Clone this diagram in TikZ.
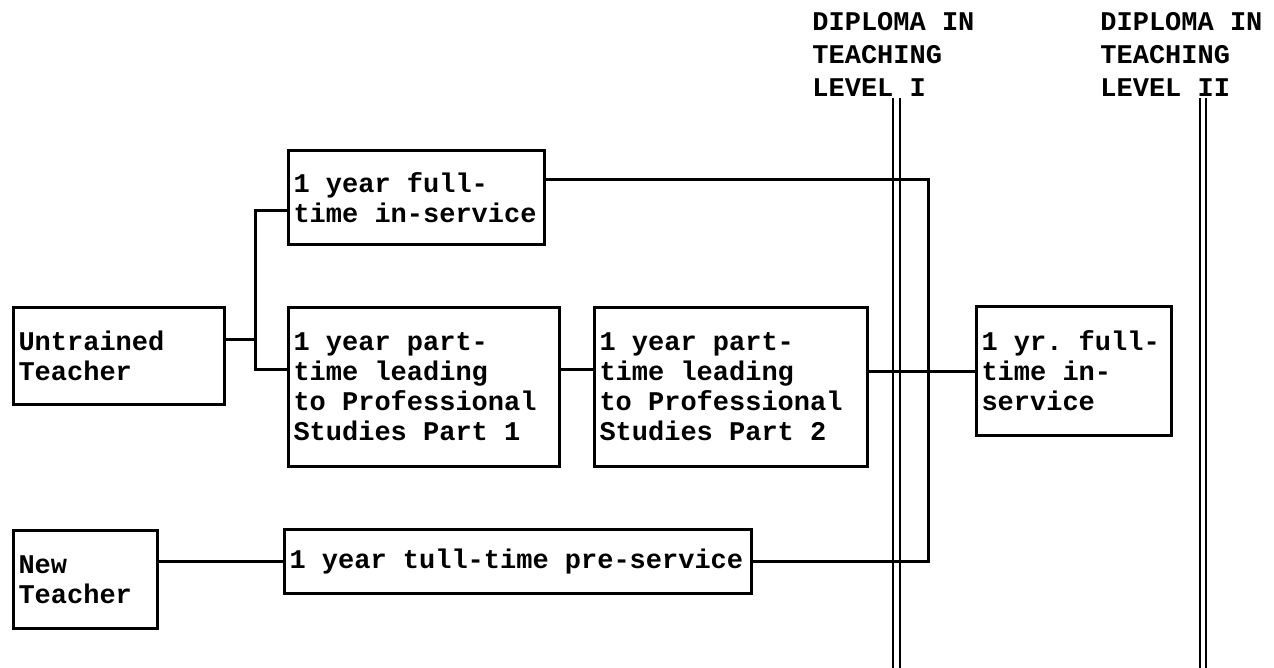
\documentclass[tikz,border=0pt]{standalone}
\usepackage{fontspec}
\setmonofont{Liberation Mono}
\usetikzlibrary{positioning}

\begin{document}
\begin{tikzpicture}[x=0.5pt, y=-0.5pt,
  every node/.style={font=\ttfamily\bfseries\fontsize{13.5}{15}\selectfont\frenchspacing},
  course/.style={draw, line width=1.5pt, align=flush left, inner xsep=2.5pt, inner ysep=0pt, anchor=north west},
  link/.style={line width=1.5pt},
  level/.style={double, double distance=2.4pt, line width=0.9pt},
  dipl/.style={align=flush left, inner sep=0pt, anchor=north west,
    font=\ttfamily\bfseries\fontsize{13.5}{16.5}\selectfont}]

\useasboundingbox (0,0) rectangle (1274,668);

\node[course, text width=100.5pt, minimum height=48.5pt] (untrained) at (12,306) {Untrained\\Teacher};
\node[course, text width=123pt, minimum height=47pt] (fulltime) at (287,149) {1 year full-\\time in-service};
\node[course, text width=130.5pt, minimum height=79.5pt] (ps1) at (287,306) {1 year part-\\time leading\\to Professional\\Studies Part 1};
\node[course, text width=131.5pt, minimum height=79.5pt, right=16pt of ps1.north east, anchor=north west] (ps2) {1 year part-\\time leading\\to Professional\\Studies Part 2};
\node[course, text width=92.5pt, minimum height=64.5pt] (yr1) at (975,305) {1 yr. full-\\time in-\\service};
\node[course, text width=67pt, minimum height=49pt] (newt) at (12,529) {New\\Teacher};
\node[course, text width=228.5pt, minimum height=32pt] (preserv) at (283,528) {1 year tull-time pre-service};

\node[dipl] (lvl1) at (812,12) {DIPLOMA IN\\TEACHING\\LEVEL I};
\node[dipl] (lvl2) at (1100,12) {DIPLOMA IN\\TEACHING\\LEVEL II};

\coordinate (fork) at (255,339);
\coordinate (forktop) at (255,211);
\coordinate (forkbot) at (255,369);
\coordinate (colltop) at (928,180);
\coordinate (collbot) at (928,561);
\coordinate (bar1top) at (896.5,98);
\coordinate (bar1bot) at (896.5,668);
\coordinate (bar2top) at (1203,98);
\coordinate (bar2bot) at (1203,668);

\draw[level] (bar1top) -- (bar1bot);
\draw[level] (bar2top) -- (bar2bot);

\draw[link] (untrained.east |- fork) -- (fork);
\draw[link] (fulltime.west |- forktop) -- (forktop) -- (forkbot) -- (ps1.west |- forkbot);
\draw[link] (ps1.east |- forkbot) -- (ps2.west |- forkbot);
\draw[link] (fulltime.east |- colltop) -- (colltop) -- (collbot) -- (preserv.east |- collbot);
\draw[link] (ps2.east |- yr1.west) -- (yr1.west);
\draw[link] (newt.east |- preserv.west) -- (preserv.west);
\end{tikzpicture}
\end{document}
